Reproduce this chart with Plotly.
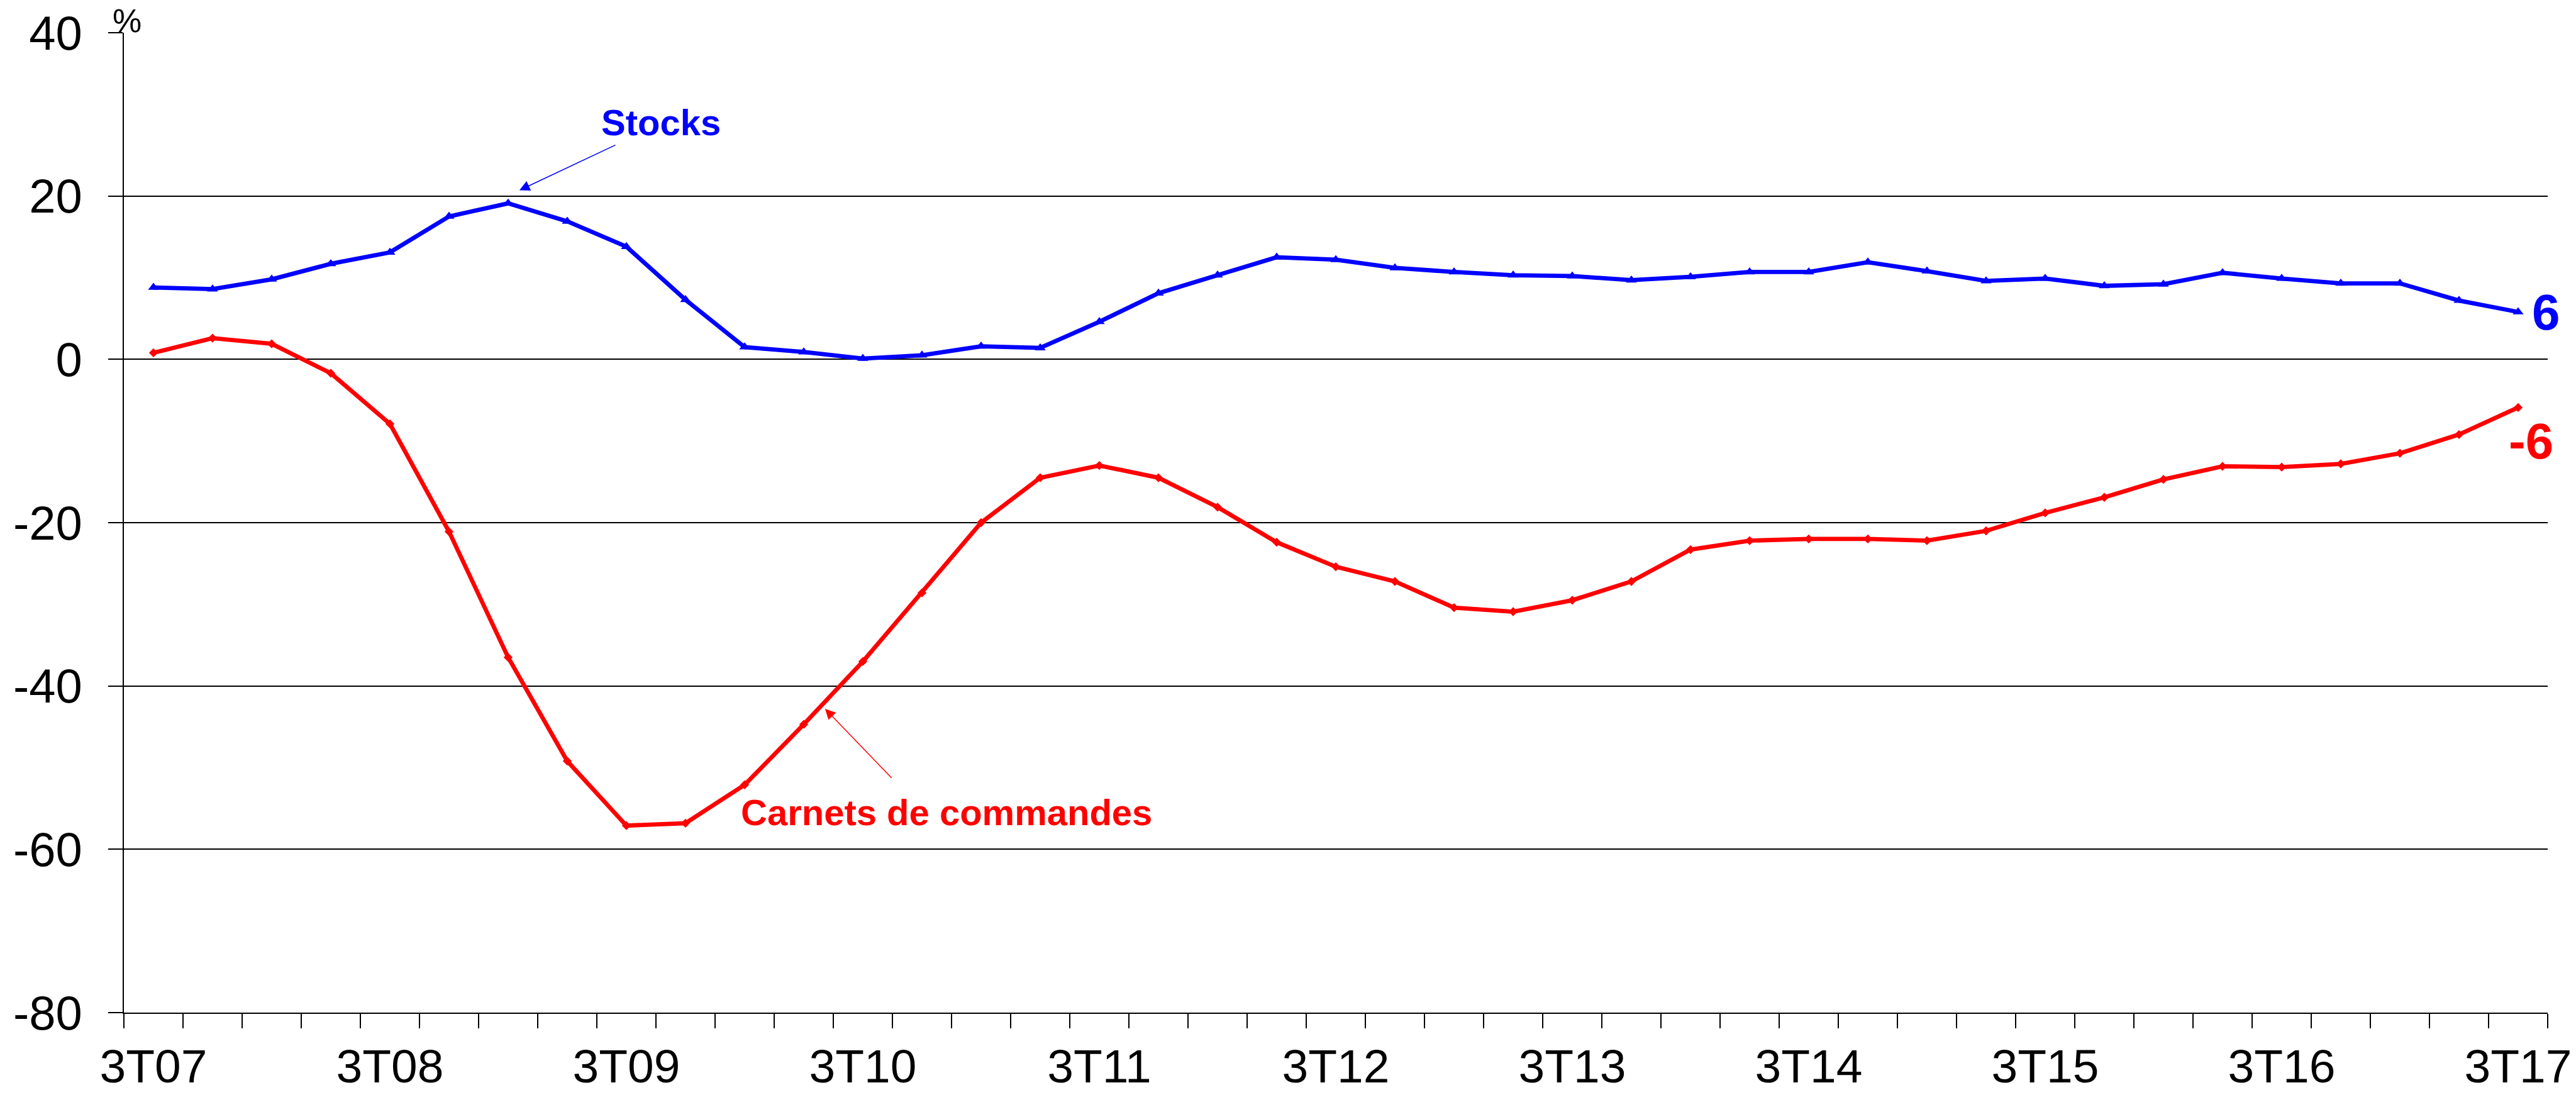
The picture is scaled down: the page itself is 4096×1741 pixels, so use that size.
import plotly.graph_objects as go

quarters = ["3T07", "4T07",
            "1T08", "2T08", "3T08", "4T08",
            "1T09", "2T09", "3T09", "4T09",
            "1T10", "2T10", "3T10", "4T10",
            "1T11", "2T11", "3T11", "4T11",
            "1T12", "2T12", "3T12", "4T12",
            "1T13", "2T13", "3T13", "4T13",
            "1T14", "2T14", "3T14", "4T14",
            "1T15", "2T15", "3T15", "4T15",
            "1T16", "2T16", "3T16", "4T16",
            "1T17", "2T17", "3T17"]

stocks = [8.8, 8.6, 9.8, 11.7, 13.1, 17.5, 19.1, 16.9, 13.8, 7.3,
          1.5, 0.9, 0.1, 0.5, 1.6, 1.4, 4.6, 8.1, 10.3, 12.5,
          12.2, 11.2, 10.7, 10.3, 10.2, 9.7, 10.1, 10.7, 10.7, 11.9,
          10.8, 9.6, 9.9, 9.0, 9.2, 10.6, 9.9, 9.3, 9.3, 7.2, 5.8]

carnets = [0.8, 2.6, 1.9, -1.7, -7.9, -21.1, -36.5, -49.2, -57.1, -56.8,
           -52.1, -44.7, -37.0, -28.6, -20.0, -14.5, -13.0, -14.5, -18.1, -22.4,
           -25.4, -27.2, -30.4, -30.9, -29.5, -27.2, -23.3, -22.2, -22.0, -22.0,
           -22.2, -21.0, -18.8, -16.9, -14.7, -13.1, -13.2, -12.8, -11.5, -9.2, -5.9]

y_ticks = [-80, -60, -40, -20, 0, 20, 40]
y_ticktext = [str(v) for v in y_ticks]

xs = list(range(len(quarters)))
label_idx = [i for i, q in enumerate(quarters) if q.startswith("3T")]
label_txt = [quarters[i] for i in label_idx]

BLUE = "#0000FF"
RED = "#FF0000"
FONT = "Liberation Sans, Arial, sans-serif"

fig = go.Figure()
fig.add_trace(go.Scatter(
    x=xs, y=carnets, mode="lines+markers", name="Carnets de commandes",
    line=dict(color=RED, width=6.8),
    marker=dict(symbol="diamond", size=11, color=RED),
    cliponaxis=False, showlegend=False))
fig.add_trace(go.Scatter(
    x=xs, y=stocks, mode="lines+markers", name="Stocks",
    line=dict(color=BLUE, width=6.8),
    marker=dict(symbol="triangle-up", size=15, color=BLUE),
    cliponaxis=False, showlegend=False))

annotations = [
    dict(text="<b>Stocks</b>", x=8.59, y=29.0, xref="x", yref="y",
         showarrow=False, font=dict(family=FONT, size=58, color=BLUE),
         xanchor="center", yanchor="middle"),
    dict(text="", x=6.19, y=20.7, ax=7.83, ay=26.3, xref="x", yref="y",
         axref="x", ayref="y", showarrow=True, arrowhead=2, arrowsize=2.2,
         arrowwidth=1.5, arrowcolor=BLUE),
    dict(text="<b>Carnets de commandes</b>", x=13.42, y=-55.47, xref="x", yref="y",
         showarrow=False, font=dict(family=FONT, size=58, color=RED),
         xanchor="center", yanchor="middle"),
    dict(text="", x=11.36, y=-42.79, ax=12.5, ay=-51.36, xref="x", yref="y",
         axref="x", ayref="y", showarrow=True, arrowhead=2, arrowsize=2.2,
         arrowwidth=1.5, arrowcolor=RED),
    dict(text="<b>%d</b>" % round(stocks[-1]), x=xs[-1], y=stocks[-1], xref="x", yref="y",
         showarrow=False, font=dict(family=FONT, size=80, color=BLUE),
         xanchor="left", yanchor="middle", xshift=20),
    dict(text="<b>%d</b>" % round(carnets[-1]), x=xs[-1], y=carnets[-1], xref="x", yref="y",
         showarrow=False, font=dict(family=FONT, size=80, color=RED),
         xanchor="center", yanchor="middle", xshift=20, yshift=-54),
    dict(text="%", x=0.0013, y=1.0119, xref="paper", yref="paper",
         showarrow=False, font=dict(family=FONT, size=52, color="black"),
         xanchor="center", yanchor="middle"),
]

fig.update_layout(
    width=4096, height=1741,
    margin=dict(l=197, r=45, t=52, b=131, pad=0, autoexpand=False),
    paper_bgcolor="white", plot_bgcolor="white",
    font=dict(family=FONT, size=76, color="black"),
    annotations=annotations,
    showlegend=False,
)

fig.update_xaxes(
    range=[-0.5, len(quarters) - 0.5],
    tickmode="array", tickvals=label_idx, ticktext=label_txt,
    ticks="", showgrid=False, zeroline=False, automargin=False,
    showline=True, linecolor="black", linewidth=2.3,
    tickfont=dict(family=FONT, size=75, color="black"),
    ticklabelstandoff=19,
    minor=dict(tickmode="linear", tick0=-0.5, dtick=1, ticks="outside",
               ticklen=23, tickwidth=2, tickcolor="black", showgrid=False),
)
fig.update_yaxes(
    range=[-80, 40], tickmode="array", tickvals=y_ticks, ticktext=y_ticktext,
    ticks="outside", ticklen=23, tickwidth=2, tickcolor="black",
    showgrid=True, gridcolor="black", gridwidth=1.5, zeroline=False,
    showline=True, linecolor="black", linewidth=2, automargin=False,
    tickfont=dict(family=FONT, size=76, color="black"),
    ticklabelstandoff=26,
)

fig.write_html(
    "out.html",
    config={"displayModeBar": False},
    post_script="document.body.style.margin='0';document.body.style.overflow='hidden';",
)
